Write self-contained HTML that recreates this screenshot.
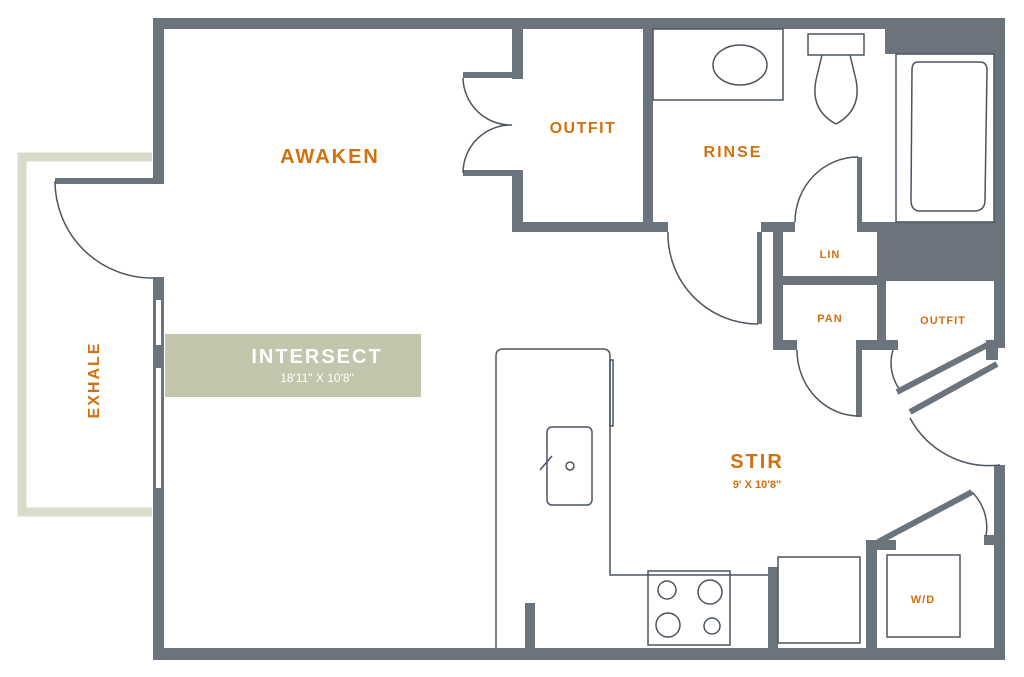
<!DOCTYPE html>
<html><head><meta charset="utf-8"><style>
html,body{margin:0;padding:0;background:#fff;}
svg{display:block;}
.t{font-family:"Liberation Sans",sans-serif;font-weight:bold;fill:#d2700f;text-anchor:middle;}
</style></head><body>
<svg width="1024" height="677" viewBox="0 0 1024 677" xmlns="http://www.w3.org/2000/svg">
<!-- balcony -->
<path d="M152,157 H22 V512 H152" fill="none" stroke="#d8dbc9" stroke-width="9"/>
<g fill="#6b737d">
<!-- outer walls -->
<rect x="153" y="18" width="852" height="11"/>
<rect x="994" y="18" width="11" height="330"/>
<rect x="994" y="465" width="11" height="195"/>
<rect x="153" y="648" width="852" height="12"/>
<rect x="153" y="18" width="11" height="165"/>
<rect x="55" y="178" width="109" height="6"/>
<rect x="153" y="277" width="11" height="383"/>
<!-- outfit closet -->
<rect x="512" y="29" width="11" height="50"/>
<rect x="463" y="72" width="55" height="6"/>
<rect x="463" y="170" width="55" height="6"/>
<rect x="512" y="170" width="11" height="62"/>
<rect x="512" y="222" width="156" height="10"/>
<rect x="643" y="29" width="10" height="203"/>
<!-- bath / lin -->
<rect x="757" y="232" width="5" height="92"/>
<rect x="761" y="222" width="34" height="10"/>
<rect x="773" y="222" width="10" height="128"/>
<rect x="857" y="157" width="5" height="75"/>
<rect x="857" y="222" width="148" height="10"/>
<rect x="877" y="222" width="128" height="58"/>
<rect x="885" y="29" width="120" height="25"/>
<rect x="783" y="276" width="94" height="9"/>
<rect x="877" y="276" width="9" height="74"/>
<rect x="886" y="276" width="108" height="5"/>
<rect x="773" y="340" width="24" height="10"/>
<rect x="856" y="340" width="42" height="10"/>
<rect x="856" y="345" width="6" height="72"/>
<rect x="986" y="340" width="12" height="20"/>
<!-- lower right -->
<rect x="768" y="567" width="10" height="90"/>
<rect x="866" y="545" width="11" height="110"/>
<rect x="866" y="540" width="30" height="10"/>
<rect x="984" y="535" width="21" height="10"/>
<rect x="525" y="603" width="10" height="50"/>
</g>
<!-- windows -->
<rect x="156" y="300" width="5" height="45" fill="#fff"/>
<rect x="156" y="368" width="5" height="120" fill="#fff"/>
<g fill="none" stroke="#4d5560" stroke-width="1.5">
<!-- doors -->
<path d="M55,181 A97,97 0 0,0 153,278"/>
<path d="M463,78 A48,48 0 0,0 512,125 A48,48 0 0,0 463,173"/>
<path d="M668,232 A90,90 0 0,0 758,324"/>
<path d="M795,222 A63,65 0 0,1 858,157"/>
<path d="M797,350 A62,66 0 0,0 860,416"/>
<path d="M893,350 A45,45 0 0,0 900,390"/>
<path d="M910,418 A90,90 0 0,0 1000,465"/>
<path d="M972,492 A50,50 0 0,1 986,536"/>
<!-- fixtures -->
<rect x="653" y="29" width="130" height="71"/>
<ellipse cx="740" cy="65" rx="27" ry="20"/>
<rect x="808" y="34" width="56" height="21"/>
<path d="M822,55 L816,80 Q810,110 836,124 Q862,110 856,80 L850,55"/>
<rect x="896" y="54" width="98" height="168"/>
<path d="M918,62 H980 Q987,62 987,70 L985,200 Q985,211 974,211 H920 Q911,211 911,200 L912,70 Q912,62 918,62 Z"/>
<path d="M496,648 V356 Q496,349 503,349 H603 Q610,349 610,356 V575 H768"/>
<rect x="610" y="360" width="3" height="66"/>
<rect x="547" y="427" width="45" height="78" rx="5"/>
<circle cx="570" cy="466" r="4"/>
<path d="M540,470 L552,456"/>
<rect x="648" y="571" width="82" height="74"/>
<circle cx="667" cy="590" r="9"/><circle cx="710" cy="592" r="12"/>
<circle cx="668" cy="625" r="12"/><circle cx="712" cy="626" r="8"/>
<rect x="778" y="557" width="82" height="86"/>
<rect x="887" y="555" width="73" height="82"/>
</g>
<g stroke="#6b737d" stroke-width="6" fill="none">
<path d="M897,392 L993,342"/>
<path d="M910,412 L997,364"/>
<path d="M878,542 L972,492"/>
</g>
<rect x="165" y="334" width="256" height="63" fill="#c3c6ad"/>
<text class="t" x="330" y="163" font-size="20" letter-spacing="2">AWAKEN</text>
<text class="t" x="583" y="133" font-size="16" letter-spacing="1.5">OUTFIT</text>
<text class="t" x="733" y="157" font-size="16" letter-spacing="2">RINSE</text>
<text class="t" x="830" y="258" font-size="11" letter-spacing="1">LIN</text>
<text class="t" x="830" y="322" font-size="11" letter-spacing="1">PAN</text>
<text class="t" x="943" y="324" font-size="11" letter-spacing="1">OUTFIT</text>
<text class="t" x="757" y="468" font-size="20" letter-spacing="2">STIR</text>
<text class="t" x="757" y="488" font-size="11" font-weight="normal">9' X 10'8"</text>
<text class="t" x="923" y="603" font-size="11" letter-spacing="1">W/D</text>
<text class="t" x="0" y="0" font-size="16" letter-spacing="2" transform="translate(99,380) rotate(-90)">EXHALE</text>
<text x="317" y="363" font-size="20" letter-spacing="2" fill="#fff" font-family="Liberation Sans,sans-serif" font-weight="bold" text-anchor="middle">INTERSECT</text>
<text x="317" y="382" font-size="12" fill="#fff" font-family="Liberation Sans,sans-serif" text-anchor="middle">18'11" X 10'8"</text>
</svg>
</body></html>
